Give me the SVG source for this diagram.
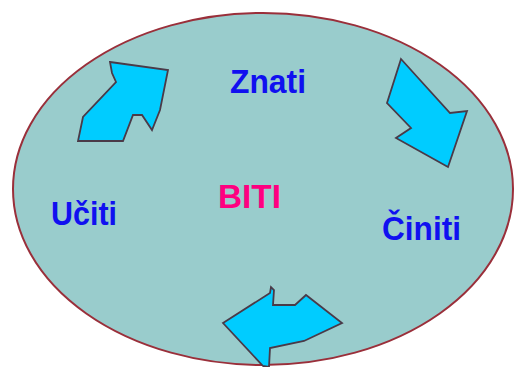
<svg xmlns="http://www.w3.org/2000/svg" width="515" height="367" viewBox="0 0 515 367">
  <style>
    .ring { fill: #99cccc; stroke: #9a2f3a; stroke-width: 2; }
    .arrow { fill: #00ccff; stroke: #4a3a48; stroke-width: 1.8; stroke-linejoin: miter; }
    .label { font-family: "Liberation Sans", Arial, sans-serif; font-weight: bold; font-size: 33px; }
    .verb { fill: #1010f0; }
    .core { fill: #ff0080; }
  </style>
  <rect width="515" height="367" fill="#ffffff"/>
  <!-- outer cycle field -->
  <ellipse class="ring" cx="263" cy="189" rx="250" ry="176"/>

  <!-- curved block arrows driving the cycle -->
  <g id="connectors">
    <polygon class="arrow" points="110,62 168,70 160,110 152,130 142,115 133,115 123,141 78,141 83,117 116,82 112,73"/>
    <polygon class="arrow" points="401,59 420,80 450,113 467,111 448,167 396,138 411,128 387,103"/>
    <polygon class="arrow" points="223,323 270,293 271,287 274,290 273,305 295,305 306,295 342,323 304,341 270,348 269,367 263,366"/>
  </g>

  <g id="znati"><text class="label verb" x="230" y="93" textLength="76" lengthAdjust="spacingAndGlyphs">Znati</text></g>
  <g id="ciniti"><text class="label verb" x="382" y="240" textLength="79" lengthAdjust="spacingAndGlyphs">Činiti</text></g>
  <g id="uciti"><text class="label verb" x="51" y="225" textLength="66" lengthAdjust="spacingAndGlyphs">Učiti</text></g>
  <g id="biti"><text class="label core" x="218" y="208" textLength="63" lengthAdjust="spacingAndGlyphs">BITI</text></g>
</svg>
